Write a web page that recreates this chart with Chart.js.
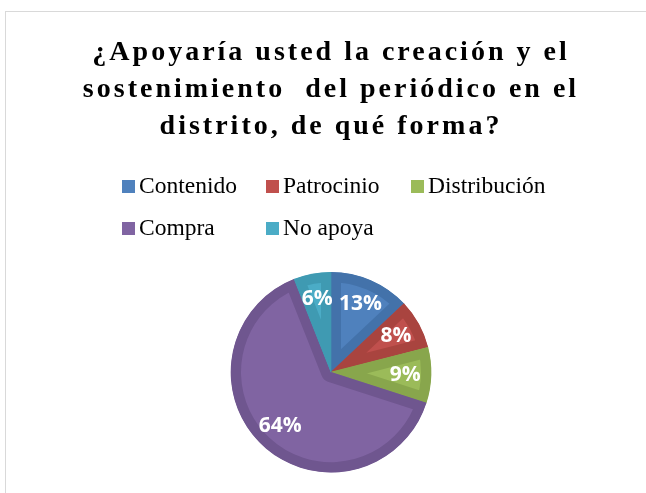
<!DOCTYPE html>
<html>
<head>
<meta charset="utf-8">
<script src="https://cdn.jsdelivr.net/npm/chart.js@4/dist/chart.umd.min.js"></script>
<style>
  html, body { margin: 0; padding: 0; background: #fff; overflow: hidden; }
  #frame {
    position: absolute; left: 5px; top: 11px; width: 700px; height: 500px;
    border-left: 1px solid #d9d9d9; border-top: 1px solid #d9d9d9;
  }
  #wrap { position: absolute; left: 1px; top: 0; width: 639px; height: 481px; }
  #legend {
    position: absolute; left: 122px; top: 165px;
    display: grid; grid-template-columns: 144px 145px 150px; grid-auto-rows: 42px;
    font-family: "Liberation Serif", "Times New Roman", serif; font-size: 23.5px; color: #000;
  }
  #legend .item { display: flex; align-items: center; white-space: nowrap; }
  #legend .box { width: 13px; height: 13px; margin-right: 4px; flex: none; }
  #legend .txt { line-height: 1; }
</style>
</head>
<body>
<div id="frame"><div id="wrap"><canvas id="chart_pie"></canvas></div></div>
<div id="legend"></div>
<script>
const titleLines = [
    '¿Apoyaría usted la creación y el',
    'sostenimiento  del periódico en el',
    'distrito, de qué forma?'
];
const categories = ['Contenido', 'Patrocinio', 'Distribución', 'Compra', 'No apoya'];
const percents = [13, 8, 9, 64, 6];
const fillColors = ['#4f81bd', '#c0504d', '#9bbb59', '#8064a2', '#4bacc6'];
const rimColors = ['#4372aa', '#a9443f', '#88a64c', '#6f568f', '#3f9ab2'];

// spaced-out title like the original, canvas letterSpacing only around the title draw
const titleSpacing = {
    id: 'titleSpacing',
    beforeDraw: (chart) => {
        const block = chart.titleBlock;
        if (!block || block._spaced) return;
        const orig = block.draw;
        block.draw = function () {
            const ctx = chart.ctx;
            ctx.save();
            ctx.letterSpacing = '3px';
            orig.call(this);
            ctx.restore();
        };
        block._spaced = true;
    }
};

// percent labels inside the slices
const sliceLabels = {
    id: 'sliceLabels',
    afterDatasetsDraw: (chart) => {
        const ctx = chart.ctx;
        const meta = chart.getDatasetMeta(0);
        const values = chart.data.datasets[0].data;
        const total = values.reduce((a, b) => a + b, 0);
        ctx.save();
        ctx.fillStyle = '#ffffff';
        ctx.font = 'bold 21px "Open Sans", "DejaVu Sans", sans-serif';
        ctx.textAlign = 'center';
        ctx.textBaseline = 'middle';
        meta.data.forEach((arc, i) => {
            const mid = (arc.startAngle + arc.endAngle) / 2;
            const r = arc.outerRadius * 0.74;
            const x = arc.x + Math.cos(mid) * r;
            const y = arc.y + Math.sin(mid) * r;
            ctx.fillText(Math.round(values[i] / total * 100) + '%', x, y);
        });
        ctx.restore();
    }
};

// legend laid out as a grid, built from the chart's own legend items
const htmlLegend = {
    id: 'htmlLegend',
    afterUpdate: (chart) => {
        const box = document.getElementById('legend');
        box.innerHTML = '';
        const items = chart.options.plugins.legend.labels.generateLabels(chart);
        items.forEach((item) => {
            const el = document.createElement('div');
            el.className = 'item';
            const sw = document.createElement('span');
            sw.className = 'box';
            sw.style.background = fillColors[item.index];
            const tx = document.createElement('span');
            tx.className = 'txt';
            tx.textContent = item.text;
            el.appendChild(sw);
            el.appendChild(tx);
            box.appendChild(el);
        });
    }
};

Chart.defaults.color = '#000';

const canvas = document.getElementById('chart_pie');
const chart = new Chart(canvas, {
    type: 'pie',
    data: {
        labels: categories,
        datasets: [{
            data: percents,
            backgroundColor: fillColors,
            borderColor: rimColors,
            borderWidth: 10,
            borderAlign: 'inner',
        }]
    },
    options: {
        responsive: true,
        maintainAspectRatio: false,
        animation: false,
        layout: {
            padding: { left: 9, right: 0, top: 0, bottom: 20.5 }
        },
        plugins: {
            legend: { display: false },
            tooltip: { enabled: false },
            title: {
                display: true,
                text: titleLines,
                color: '#000',
                font: { family: '"Liberation Serif", "Times New Roman", serif', size: 28, weight: 'bold', lineHeight: 1.32 },
                padding: { top: 22.5, bottom: 126.5 }
            }
        }
    },
    plugins: [titleSpacing, sliceLabels, htmlLegend]
});
</script>
</body>
</html>
